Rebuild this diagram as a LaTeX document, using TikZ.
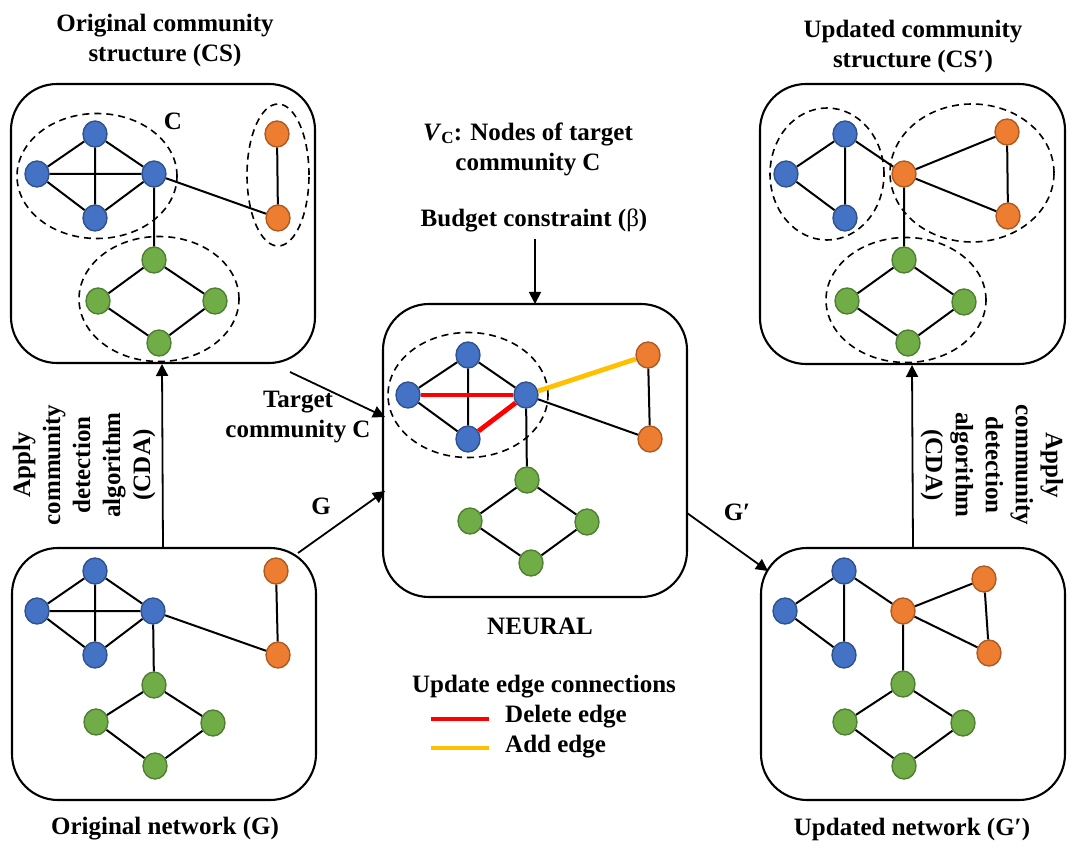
\documentclass[tikz,border=0pt]{standalone}
\usepackage{fontspec}
\setmainfont{Liberation Serif}
\usetikzlibrary{shapes.geometric,arrows.meta}
\definecolor{bf}{HTML}{4472C4}\definecolor{bd}{HTML}{2F528F}
\definecolor{of}{HTML}{ED7D31}\definecolor{od}{HTML}{AE5A21}
\definecolor{gf}{HTML}{70AD47}\definecolor{gd}{HTML}{507E32}
\definecolor{addc}{HTML}{FFC000}
\tikzset{
 panel/.style={draw=black,line width=2.1pt,rounded corners=46pt,inner sep=0pt,fill=none},
 vtx/.style={ellipse,inner sep=0pt,minimum width=24pt,minimum height=26pt,line width=1.4pt},
 bv/.style={vtx,fill=bf,draw=bd},
 ov/.style={vtx,fill=of,draw=od},
 gv/.style={vtx,fill=gf,draw=gd},
 edge/.style={draw=black,line width=2pt},
 red edge/.style={draw=red,line width=4.8pt},
 add edge/.style={draw=addc,line width=4.8pt},
 comm/.style={ellipse,draw=black,line width=1.6pt,dash pattern=on 7pt off 5pt,inner sep=0pt},
 flow/.style={draw=black,line width=1.8pt,-{Triangle[length=12pt,width=12pt]}},
 lab/.style={font=\fontsize{25}{30}\selectfont\bfseries,align=center,inner sep=0pt},
}
\newcommand{\pnl}[5]{\node[panel,minimum width=#4pt,minimum height=#5pt] (#1) at (#2,#3) {};}
\newcommand{\cm}[5]{\node[comm,minimum width=#4pt,minimum height=#5pt] (#1) at (#2,#3) {};}
\begin{document}
\begin{tikzpicture}[x=1pt,y=-1pt]
\useasboundingbox (0,0) rectangle (1085,858);
% panels
\pnl{tl}{163}{223.5}{304}{279}
\pnl{tr}{912.5}{224}{305}{280}
\pnl{cc}{535}{450.5}{304}{293}
\pnl{bl}{164}{674}{304}{252}
\pnl{br}{913}{674}{304}{252}
% communities
\cm{ca}{97}{176}{160}{125}
\cm{cb}{278}{175}{62}{142}
\cm{cc1}{159}{299}{160}{125}
\cm{cd}{468}{395}{160}{125}
\cm{ce}{827}{174}{114}{132}
\cm{cf}{972}{173}{164}{138}
\cm{cg}{906}{300}{160}{125}
% top-left graph
\node[bv] (a1) at (95,134) {};\node[bv] (a2) at (37,174) {};\node[bv] (a3) at (154,174) {};\node[bv] (a4) at (95,218) {};
\node[ov] (a5) at (277,134) {};\node[ov] (a6) at (278,218) {};
\node[gv] (a7) at (154,260) {};\node[gv] (a8) at (98,301) {};\node[gv] (a9) at (215,301) {};\node[gv] (a10) at (159,343) {};
\draw[edge] (a1)--(a2) (a1)--(a3) (a1)--(a4) (a2)--(a3) (a2)--(a4) (a3)--(a4) (a3)--(a7) (a3)--(a6) (a5)--(a6)
 (a7)--(a8) (a7)--(a9) (a8)--(a10) (a9)--(a10);
% centre graph
\node[bv] (c1) at (468,355) {};\node[bv] (c2) at (408,395) {};\node[bv] (c3) at (526,395) {};\node[bv] (c4) at (468,439) {};
\node[ov] (c5) at (648,355) {};\node[ov] (c6) at (650,439) {};
\node[gv] (c7) at (527,480) {};\node[gv] (c8) at (470,521) {};\node[gv] (c9) at (587,522) {};\node[gv] (c10) at (531,563) {};
\draw[edge] (c1)--(c2) (c1)--(c3) (c1)--(c4) (c2)--(c4) (c3)--(c7) (c3)--(c6) (c5)--(c6)
 (c7)--(c8) (c7)--(c9) (c8)--(c10) (c9)--(c10);
\draw[red edge] (c2)--(c3);
\draw[red edge] (c3)--(c4);
\draw[add edge] (c3)--(c5);
% bottom-left graph
\node[bv] (b1) at (95,571) {};\node[bv] (b2) at (37,611) {};\node[bv] (b3) at (153,611) {};\node[bv] (b4) at (95,655) {};
\node[ov] (b5) at (276,571) {};\node[ov] (b6) at (278,655) {};
\node[gv] (b7) at (154,685) {};\node[gv] (b8) at (96,722) {};\node[gv] (b9) at (213,723) {};\node[gv] (b10) at (155,766) {};
\draw[edge] (b1)--(b2) (b1)--(b3) (b1)--(b4) (b2)--(b3) (b2)--(b4) (b3)--(b4) (b3)--(b7) (b3)--(b6) (b5)--(b6)
 (b7)--(b8) (b7)--(b9) (b8)--(b10) (b9)--(b10);
% top-right graph
\node[bv] (d1) at (845,134) {};\node[bv] (d2) at (786,174) {};\node[bv] (d4) at (845,218) {};
\node[ov] (d3) at (904,174) {};\node[ov] (d5) at (1007,132) {};\node[ov] (d6) at (1008,216) {};
\node[gv] (d7) at (904,260) {};\node[gv] (d8) at (847,301) {};\node[gv] (d9) at (964,302) {};\node[gv] (d10) at (908,343) {};
\draw[edge] (d1)--(d2) (d1)--(d3) (d1)--(d4) (d2)--(d4) (d3)--(d5) (d3)--(d6) (d5)--(d6) (d3)--(d7)
 (d7)--(d8) (d7)--(d9) (d8)--(d10) (d9)--(d10);
% bottom-right graph
\node[bv] (e1) at (844,571) {};\node[bv] (e2) at (785,611) {};\node[bv] (e4) at (844,655) {};
\node[ov] (e3) at (903,611) {};\node[ov] (e5) at (984,579) {};\node[ov] (e6) at (989,653) {};
\node[gv] (e7) at (903,684) {};\node[gv] (e8) at (845,722) {};\node[gv] (e9) at (963,723) {};\node[gv] (e10) at (904,766) {};
\draw[edge] (e1)--(e2) (e1)--(e3) (e1)--(e4) (e2)--(e4) (e3)--(e5) (e3)--(e6) (e5)--(e6) (e3)--(e7)
 (e7)--(e8) (e7)--(e9) (e8)--(e10) (e9)--(e10);
% flow arrows
\coordinate (f1s) at (163,548);\coordinate (f1e) at (162,364);
\coordinate (f2s) at (290,372);\coordinate (f2e) at (385,417);
\coordinate (f3s) at (298,553);\coordinate (f3e) at (385,491);
\coordinate (f4s) at (535,239);\coordinate (f4e) at (535,304);
\coordinate (f5s) at (687,513);\coordinate (f5e) at (768,571);
\coordinate (f6s) at (913,548);\coordinate (f6e) at (912,365);
\draw[flow] (f1s)--(f1e);
\draw[flow] (f2s)--(f2e);
\draw[flow] (f3s)--(f3e);
\draw[flow] (f4s)--(f4e);
\draw[flow] (f5s)--(f5e);
\draw[flow] (f6s)--(f6e);
% legend
\coordinate (l1s) at (431,719);\coordinate (l1e) at (489,719);
\coordinate (l2s) at (431,748);\coordinate (l2e) at (489,748);
\draw[red edge] (l1s)--(l1e);
\draw[add edge] (l2s)--(l2e);
% labels
\node[lab] (t1) at (165,40.5) {Original community\\structure (CS)};
\node[lab] (t2) at (913,46.5) {Updated community\\structure (CS′)};
\node[lab] (t3) at (173,121) {C};
\node[lab] (t4) at (528,149) {\textit{V}\raisebox{-3pt}{\fontsize{17}{17}\selectfont C}: Nodes of target\\community C};
\node[lab] (t5) at (534,220) {Budget constraint ({\mdseries β})};
\node[lab] (t6) at (298,417) {Target\\community C};
\node[lab] (t7) at (321,506) {G};
\node[lab] (t8) at (737,512) {G′};
\node[lab] (t9) at (540,626) {NEURAL};
\node[lab] (t10) at (544,687) {Update edge connections};
\node[lab,anchor=west] (t11) at (505,717) {Delete edge};
\node[lab,anchor=west] (t12) at (505,747) {Add edge};
\node[lab] (t13) at (165,829) {Original network (G)};
\node[lab] (t14) at (912,829) {Updated network (G′)};
\node[lab,rotate=90] (t15) at (84,465) {Apply\\community\\detection\\algorithm\\(CDA)};
\node[lab,rotate=-90] (t16) at (992,465) {Apply\\community\\detection\\algorithm\\(CDA)};
\end{tikzpicture}
\end{document}
